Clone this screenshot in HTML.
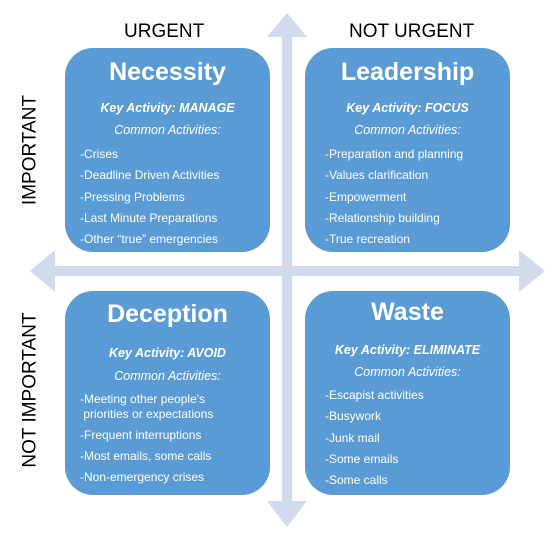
<!DOCTYPE html>
<html><head><style>
body{margin:0;width:554px;height:535px;background:#fff;position:relative;overflow:hidden;font-family:"Liberation Sans",sans-serif}
.b{position:absolute;width:205px;height:204px;background:#5b9bd5;border-radius:28px}
.t{position:absolute;color:#fff;white-space:nowrap;line-height:1}
.c{width:205px;text-align:center}
.h{font-size:25px;font-weight:bold}
.k{font-size:12.5px;font-weight:bold;font-style:italic}
.m{font-size:12.5px;font-style:italic}
.i{font-size:12px;left:15px}
.lab{position:absolute;font-size:19px;color:#000;white-space:nowrap;line-height:1}
</style></head><body>
<svg width="554" height="535" style="position:absolute;left:0;top:0">
<g fill="#d0dcee">
<rect x="55" y="266" width="464" height="10"/>
<polygon points="30,271 55,250 55,292"/>
<polygon points="545,271 519,250 519,292"/>
<rect x="282" y="37" width="10" height="464"/>
<polygon points="287,13 267,37 307,37"/>
<polygon points="287,527 267,501 307,501"/>
</g></svg>
<div class="lab" style="left:124px;top:22px">URGENT</div>
<div class="lab" style="left:349px;top:22px">NOT URGENT</div>
<div class="lab" style="left:18px;top:150px;transform:translate(-50%,-50%) rotate(-90deg);left:30px">IMPORTANT</div>
<div class="lab" style="top:390px;transform:translate(-50%,-50%) rotate(-90deg);left:30px">NOT IMPORTANT</div>

<div class="b" style="left:65px;top:48px">
<div class="t c h" style="top:12px">Necessity</div>
<div class="t c k" style="top:54px">Key Activity: MANAGE</div>
<div class="t c m" style="top:76px">Common Activities:</div>
<div class="t i" style="top:100px">-Crises</div>
<div class="t i" style="top:121px">-Deadline Driven Activities</div>
<div class="t i" style="top:143px">-Pressing Problems</div>
<div class="t i" style="top:164px">-Last Minute Preparations</div>
<div class="t i" style="top:185px">-Other “true” emergencies</div>
</div>
<div class="b" style="left:305px;top:48px">
<div class="t c h" style="top:12px">Leadership</div>
<div class="t c k" style="top:54px">Key Activity: FOCUS</div>
<div class="t c m" style="top:76px">Common Activities:</div>
<div class="t i" style="left:20px;top:100px">-Preparation and planning</div>
<div class="t i" style="left:20px;top:121px">-Values clarification</div>
<div class="t i" style="left:20px;top:143px">-Empowerment</div>
<div class="t i" style="left:20px;top:164px">-Relationship building</div>
<div class="t i" style="left:20px;top:185px">-True recreation</div>
</div>
<div class="b" style="left:65px;top:291px">
<div class="t c h" style="top:11px">Deception</div>
<div class="t c k" style="top:56px">Key Activity: AVOID</div>
<div class="t c m" style="top:79px">Common Activities:</div>
<div class="t i" style="top:102px">-Meeting other people's</div>
<div class="t i" style="top:117px">&nbsp;priorities or expectations</div>
<div class="t i" style="top:138px">-Frequent interruptions</div>
<div class="t i" style="top:159px">-Most emails, some calls</div>
<div class="t i" style="top:180px">-Non-emergency crises</div>
</div>
<div class="b" style="left:305px;top:291px">
<div class="t c h" style="top:9px">Waste</div>
<div class="t c k" style="top:53px">Key Activity: ELIMINATE</div>
<div class="t c m" style="top:75px">Common Activities:</div>
<div class="t i" style="left:20px;top:98px">-Escapist activities</div>
<div class="t i" style="left:20px;top:119px">-Busywork</div>
<div class="t i" style="left:20px;top:141px">-Junk mail</div>
<div class="t i" style="left:20px;top:162px">-Some emails</div>
<div class="t i" style="left:20px;top:183px">-Some calls</div>
</div>
</body></html>
